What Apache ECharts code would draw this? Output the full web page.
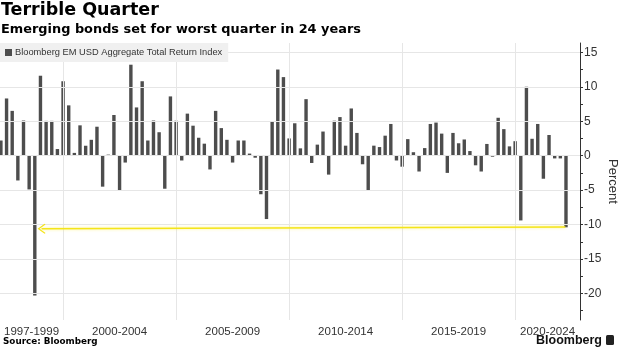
<!DOCTYPE html>
<html>
<head>
<meta charset="utf-8">
<script src="https://cdn.jsdelivr.net/npm/echarts@6/dist/echarts.min.js"></script>
<style>
  html, body { margin: 0; padding: 0; background: #ffffff; }
  #chart { width: 620px; height: 348px; }
</style>
</head>
<body>
<div id="chart"></div>
<script>
// Quarterly total return, percent, starting with 1997 Q1 and ending with 2022 Q1
const firstYear = 1997;
const quarterlyReturns = [
  2.2, 8.3, 6.5, -3.6, 5.1, -4.9, -20.3, 11.6,          // 1997 - 1998
  5.05, 5.05, 0.96, 10.8,                               // 1999
  7.3, 0.4, 4.4, 1.44,                                  // 2000
  2.3, 4.2, -4.5, 0.15,                                 // 2001
  5.9, -5.05, -1.0, 13.2,                               // 2002
  7.0, 10.8, 2.2, 5.1,                                  // 2003
  3.4, -4.8, 8.6, 5.07,                                 // 2004
  -0.7, 6.1, 4.35, 2.6,                                 // 2005
  1.74, -2.0, 6.5, 4.0,                                 // 2006
  2.3, -1.0, 2.2, 2.2,                                  // 2007
  0.3, -0.3, -5.6, -9.2,                                // 2008
  4.9, 12.5, 11.4, 2.5,                                 // 2009
  4.7, 1.06, 8.2, -1.06,                                // 2010
  1.6, 3.5, -2.75, 5.07,                                // 2011
  5.6, 1.45, 6.85, 3.3,                                 // 2012
  -1.25, -5.0, 1.45, 1.25,                              // 2013
  2.9, 4.6, -0.7, -1.6,                                 // 2014
  2.4, 0.5, -2.3, 1.1,                                  // 2015
  4.6, 4.8, 3.2, -2.5,                                  // 2016
  3.3, 1.8, 2.35, 0.67,                                 // 2017
  -1.4, -2.3, 1.7, -0.15,                               // 2018
  5.5, 3.85, 1.35, 2.1,                                 // 2019
  -9.4, 10.0, 2.45, 4.6,                                // 2020
  -3.35, 3.0, -0.4, -0.4,                               // 2021
  -10.4                                                 // 2022 Q1
];
const seriesName = 'Bloomberg EM USD Aggregate Total Return Index';
const periodLabels = ['1997-1999', '2000-2004', '2005-2009', '2010-2014', '2015-2019', '2020-2024'];
const periodBreaks = [2000, 2005, 2010, 2015, 2020];
const yLabelValues = [-20, -15, -10, -5, 0, 5, 10, 15];
const yTickValues = [-22.5, -20, -17.5, -15, -12.5, -10, -7.5, -5, -2.5, 0, 2.5, 5, 7.5, 10, 12.5, 15];

// axis extents (fractional years / percent)
const xMin = 1997.21, xMax = 2022.87;
const yMin = -23.85, yMax = 16.35;

// each bar sits at the end of its quarter
const barData = quarterlyReturns.map((v, i) => [firstYear + (i + 1) / 4, v]);

// label positions: middle of each period, clipped to the visible range
const labelCenters = periodLabels.map(s => {
  const [a, b] = s.split('-').map(Number);
  const lo = Math.max(a, xMin), hi = Math.min(b + 1, xMax);
  return (lo + hi) / 2;
});

// arrow from the latest quarter back to the 1998 slump
const lastPoint = barData[barData.length - 1];
const worstIdx = quarterlyReturns.indexOf(Math.min(...quarterlyReturns));
const arrowStart = [lastPoint[0] - 0.03, lastPoint[1] + 0.05];
const arrowEnd = [barData[worstIdx][0] + 0.3, lastPoint[1] - 0.2];

const chevron = 'path://M5,0 L10,5.4 L9.2,6.2 L5,1.6 L0.8,6.2 L0,5.4 Z';

const chart = echarts.init(document.getElementById('chart'), null, { renderer: 'canvas' });

chart.setOption({
  animation: false,
  backgroundColor: '#ffffff',
  textStyle: { fontFamily: 'DejaVu Sans' },
  title: [
    {
      text: 'Terrible Quarter',
      left: 1, top: 1, padding: 0,
      textStyle: { fontFamily: 'DejaVu Sans', fontWeight: 'bold', fontSize: 17.5, color: '#000000' }
    },
    {
      text: 'Emerging bonds set for worst quarter in 24 years',
      left: 1, top: 23, padding: 0,
      textStyle: { fontFamily: 'DejaVu Sans', fontWeight: 'bold', fontSize: 12.9, color: '#000000' }
    },
    {
      text: 'Source: Bloomberg',
      left: 3, top: 337, padding: 0,
      textStyle: { fontFamily: 'DejaVu Sans', fontWeight: 'bold', fontSize: 8.8, color: '#000000' }
    }
  ],
  legend: {
    data: [seriesName],
    left: 0, top: 43,
    z: 20,
    icon: 'rect',
    itemWidth: 7, itemHeight: 7, itemGap: 4,
    padding: [5, 6, 5, 5],
    backgroundColor: '#f0f0f0',
    selectedMode: false,
    textStyle: { fontFamily: 'Liberation Sans', fontSize: 9.3, color: '#333333', padding: [0, 0, 0, -2] }
  },
  grid: { left: 0, right: 40, top: 43, bottom: 28, containLabel: false, outerBoundsMode: 'none' },
  xAxis: {
    type: 'value',
    min: xMin, max: xMax,
    axisLine: { show: false },
    axisTick: { show: false },
    splitLine: { show: false },
    axisLabel: {
      customValues: labelCenters,
      formatter: v => {
        const k = labelCenters.findIndex(c => Math.abs(c - v) < 1e-6);
        return k >= 0 ? periodLabels[k] : '';
      },
      margin: 6,
      fontFamily: 'Liberation Sans', fontSize: 11.5, color: '#333333',
      hideOverlap: false
    }
  },
  yAxis: {
    type: 'value',
    position: 'right',
    min: yMin, max: yMax,
    axisLine: { show: true, lineStyle: { color: '#333333', width: 1 } },
    axisTick: { show: true, customValues: yTickValues, length: 3, lineStyle: { color: '#333333' } },
    axisLabel: {
      customValues: yLabelValues,
      margin: 4,
      fontFamily: 'Liberation Sans', fontSize: 12, color: '#333333'
    },
    splitLine: { show: false },
    name: 'Percent',
    nameLocation: 'middle',
    nameRotate: -90,
    nameGap: 26,
    nameMoveOverlap: false,
    nameTextStyle: { fontFamily: 'Liberation Sans', fontSize: 13, color: '#333333' }
  },
  series: [
    {
      // background grid
      name: 'grid',
      type: 'line',
      data: [],
      z: 0,
      silent: true,
      markLine: {
        silent: true,
        symbol: 'none',
        label: { show: false },
        lineStyle: { color: '#e6e6e6', width: 1, type: 'solid' },
        data: [
          ...yLabelValues.map(v => ({ yAxis: v })),
          ...periodBreaks.map(v => ({ xAxis: v }))
        ]
      }
    },
    {
      name: seriesName,
      type: 'bar',
      data: barData,
      barWidth: 3.4,
      z: 2,
      itemStyle: { color: '#4d4d4d' }
    },
    {
      // highlight arrow
      name: 'arrow',
      type: 'line',
      data: [],
      z: 5,
      silent: true,
      markLine: {
        silent: true,
        label: { show: false },
        symbol: ['none', chevron],
        symbolSize: [10, 8],
        lineStyle: {
          color: '#f4e41a', width: 1.6, type: 'solid',
          shadowColor: 'rgba(250, 235, 40, 0.6)', shadowBlur: 3
        },
        data: [[{ coord: arrowStart }, { coord: arrowEnd }]]
      }
    }
  ],
  graphic: [
    {
      type: 'text',
      right: 18, top: 334,
      style: { text: 'Bloomberg', font: 'bold 12.5px "Liberation Sans"', fill: '#111111' }
    },
    {
      type: 'rect',
      right: 6, top: 335,
      shape: { width: 8, height: 10, r: 1.5 },
      style: { fill: '#222222' }
    }
  ]
});
</script>
</body>
</html>
